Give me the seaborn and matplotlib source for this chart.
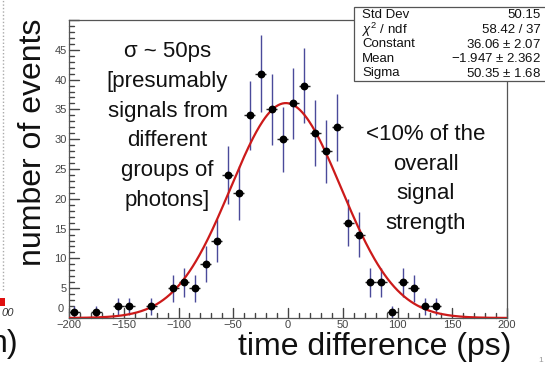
import numpy as np
import pandas as pd
import matplotlib
matplotlib.use("Agg")
import matplotlib.pyplot as plt
from matplotlib.patches import Rectangle
from matplotlib.lines import Line2D
from matplotlib.ticker import MultipleLocator
import seaborn as sns

# histogram content (bin width 10 ps)
bin_centers = [-195, -175, -155, -145, -125, -105, -95, -85, -75, -65, -55, -45,
               -35, -25, -15, -5, 5, 15, 25, 35, 45, 55, 65, 75, 85, 95, 105,
               115, 125, 135]
counts = [1, 1, 2, 2, 2, 5, 6, 5, 9, 13, 24, 21,
          34, 41, 35, 30, 36, 39, 31, 28, 32, 16, 14, 6, 6, 1, 6,
          5, 2, 2]

# gaussian fit parameters (from the stats box)
fit_const = 36.06
fit_mean = -1.947
fit_sigma = 50.35

stat_names = ["Std Dev", "$\\chi^2$ / ndf", "Constant", "Mean", "Sigma"]
stat_values = ["50.15", "58.42 / 37", "36.06 $\\pm$ 2.07",
               "\u22121.947 $\\pm$ 2.362", "50.35 $\\pm$ 1.68"]

df = pd.DataFrame({"t": bin_centers, "n": counts})
df["err"] = np.sqrt(df["n"])

xs = np.linspace(-200, 200, 401)
fit = pd.DataFrame({"t": xs,
                    "g": fit_const * np.exp(-0.5 * ((xs - fit_mean) / fit_sigma) ** 2)})

sns.set_style("ticks")
plt.rcParams.update({
    "font.family": ["Liberation Sans", "DejaVu Sans"],
    "mathtext.fontset": "custom",
    "mathtext.rm": "Liberation Sans",
    "mathtext.it": "Liberation Sans:italic",
    "axes.axisbelow": False,
})

fig = plt.figure(figsize=(5.45, 3.65), dpi=100)
ax = fig.add_axes([69 / 545, 1 - 318 / 365, 438 / 545, 298 / 365])

# error bars: vertical sqrt(N), horizontal half bin width
ax.errorbar(df["t"], df["n"], yerr=df["err"], fmt="none", ecolor="#4a4a9a",
            elinewidth=1.0, capsize=0, zorder=2)
ax.errorbar(df["t"], df["n"], xerr=5, fmt="none", ecolor="#222222",
            elinewidth=1.0, capsize=0, zorder=2)
sns.lineplot(data=fit, x="t", y="g", color="#cc1a1a", linewidth=1.6, ax=ax, zorder=3)
sns.scatterplot(data=df, x="t", y="n", color="black", s=32, linewidth=0,
                ax=ax, zorder=4)

ax.set_xlim(-200, 200)
ax.set_ylim(0, 50)
ax.set_xlabel("")
ax.set_ylabel("")
ax.set_xticks([-200, -150, -100, -50, 0, 50, 100, 150, 200])
ax.set_xticklabels(["\u2212200", "\u2212150", "\u2212100", "\u221250", "0",
                    "50", "100", "150", "200"])
ax.set_yticks([5, 10, 15, 20, 25, 30, 35, 40, 45])
for s in ax.spines.values():
    s.set_visible(True)
    s.set_color("#555555")
    s.set_linewidth(0.9)

# ROOT style inward ticks, drawn as short lines along the frame
x_major = np.arange(-200, 201, 50)
x_minor = np.arange(-200, 201, 10)
y_major = np.arange(0, 51, 5)
y_minor = np.arange(0, 51, 1)
ax.tick_params(which="both", length=0, labelsize=8, labelcolor="#444444", pad=1.5)
tick_kw = dict(color="#444444", linewidth=1.0, zorder=1.5, clip_on=False)
for v in x_minor:
    ln = 10 if v in x_major else 5
    ax.plot([v, v], [0, ln / 5.96], **tick_kw)
for v in y_minor:
    ln = 10 if v in y_major else 5
    ax.plot([-200, -200 + ln / 1.095], [v, v], **tick_kw)
ax.set_xlim(-200, 200)
ax.set_ylim(0, 50)
ax.text(-0.012, 0.012, "0", transform=ax.transAxes, ha="right", va="bottom",
        fontsize=8, color="#444444")

ax.text(-110, 50 - (126 - 20) / 5.96, "\u03c3 ~ 50ps\n[presumably\nsignals from\n"
        "different\ngroups of\nphotons]", ha="center", va="center", fontsize=16,
        linespacing=1.55, color="#111111")
ax.text(126, 50 - (179 - 20) / 5.96, "<10% of the\noverall\nsignal\nstrength",
        ha="center", va="center", fontsize=16, linespacing=1.55, color="#111111")

# stats box
fig.patches.append(Rectangle((354 / 545, 1 - 81 / 365), 0.4, 74 / 365,
                             transform=fig.transFigure, facecolor="white",
                             edgecolor="#555555", linewidth=0.9, zorder=5))
for i, (nm, val) in enumerate(zip(stat_names, stat_values)):
    y = 1 - (15 + i * 14.6) / 365
    fig.text(362 / 545, y, nm, ha="left", va="center", fontsize=9.5,
             color="#111111", zorder=6)
    fig.text(541 / 545, y, val, ha="right", va="center", fontsize=9.5,
             color="#111111", zorder=6)

# axis titles
fig.text(33 / 545, 1 - 142 / 365, "number of events", rotation=90, ha="center",
         va="center", fontsize=23, color="#111111")
fig.text(375 / 545, 1 - 347 / 365, "time difference (ps)", ha="center",
         va="center", fontsize=23, color="#111111")

# remnants of the neighbouring slide content
fig.lines.append(Line2D([3 / 545, 3 / 545], [1 - 290 / 365, 1.0],
                        transform=fig.transFigure, color="#aaaaaa",
                        linewidth=1, linestyle=(0, (1, 1.5))))
fig.patches.append(Rectangle((0, 1 - 306 / 365), 5 / 545, 8 / 365,
                             transform=fig.transFigure, facecolor="#e01010",
                             edgecolor="none"))
fig.text(14 / 545, 1 - 313 / 365, "00", ha="right", va="center", fontsize=8,
         style="italic", color="#333333")
fig.text(18 / 545, 1 - 344 / 365, "h)", ha="right", va="center", fontsize=23,
         color="#111111")
fig.text(541 / 545, 1 - 360 / 365, "1", ha="center", va="center", fontsize=6,
         color="#999999")

fig.savefig("out.png", dpi=100)
